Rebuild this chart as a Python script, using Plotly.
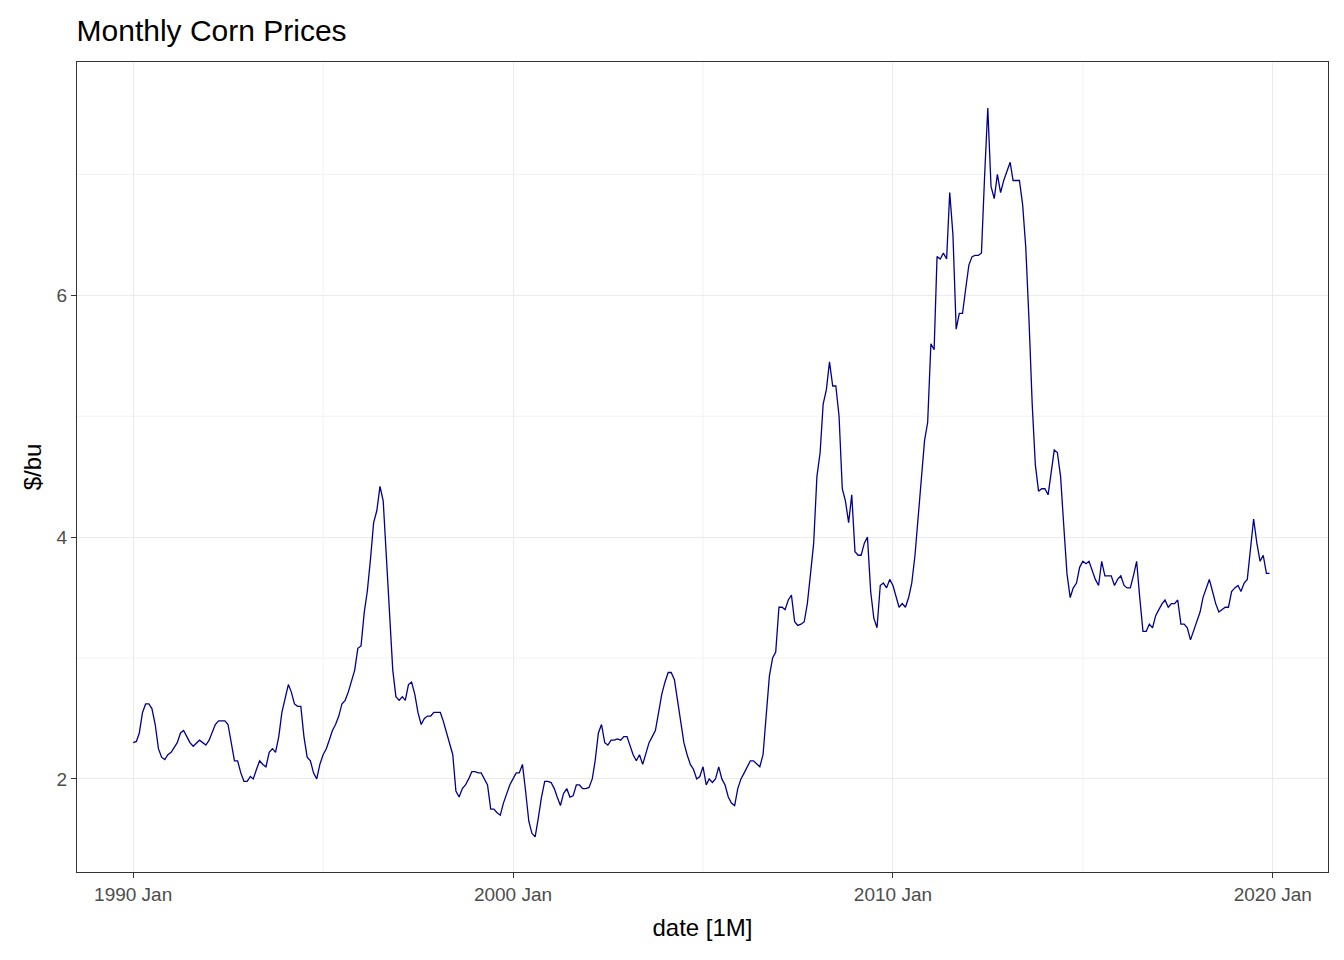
import pandas as pd
import plotly.graph_objects as go

# monthly corn prices, $/bu, Jan 1990 - Dec 2019
prices_by_year = {
    1990: [2.30, 2.31, 2.38, 2.55, 2.62, 2.62, 2.58, 2.45, 2.25, 2.18, 2.16, 2.20],
    1991: [2.22, 2.26, 2.30, 2.38, 2.40, 2.35, 2.30, 2.27, 2.30, 2.32, 2.30, 2.28],
    1992: [2.32, 2.38, 2.45, 2.48, 2.48, 2.48, 2.45, 2.30, 2.15, 2.15, 2.05, 1.98],
    1993: [1.98, 2.02, 2.00, 2.08, 2.15, 2.12, 2.10, 2.22, 2.25, 2.22, 2.35, 2.55],
    1994: [2.68, 2.78, 2.72, 2.62, 2.60, 2.60, 2.35, 2.18, 2.15, 2.05, 2.00, 2.12],
    1995: [2.20, 2.25, 2.32, 2.40, 2.45, 2.52, 2.62, 2.65, 2.72, 2.82, 2.90, 3.08],
    1996: [3.10, 3.38, 3.55, 3.82, 4.12, 4.22, 4.42, 4.30, 3.80, 3.30, 2.90, 2.68],
    1997: [2.65, 2.68, 2.65, 2.78, 2.80, 2.70, 2.55, 2.45, 2.50, 2.52, 2.52, 2.55],
    1998: [2.55, 2.55, 2.48, 2.38, 2.30, 2.20, 1.90, 1.85, 1.92, 1.95, 2.00, 2.06],
    1999: [2.06, 2.05, 2.05, 2.00, 1.95, 1.75, 1.75, 1.72, 1.70, 1.80, 1.88, 1.95],
    2000: [2.00, 2.05, 2.05, 2.12, 1.90, 1.65, 1.55, 1.52, 1.68, 1.85, 1.98, 1.98],
    2001: [1.97, 1.92, 1.85, 1.78, 1.88, 1.92, 1.85, 1.86, 1.95, 1.95, 1.92, 1.92],
    2002: [1.93, 2.00, 2.15, 2.38, 2.45, 2.30, 2.28, 2.32, 2.32, 2.33, 2.32, 2.35],
    2003: [2.35, 2.28, 2.20, 2.15, 2.20, 2.12, 2.22, 2.30, 2.35, 2.40, 2.55, 2.70],
    2004: [2.80, 2.88, 2.88, 2.82, 2.65, 2.45, 2.30, 2.20, 2.12, 2.08, 2.00, 2.02],
    2005: [2.10, 1.95, 2.00, 1.97, 2.00, 2.10, 2.00, 1.95, 1.85, 1.80, 1.78, 1.92],
    2006: [2.00, 2.05, 2.10, 2.15, 2.15, 2.12, 2.10, 2.20, 2.55, 2.85, 3.00, 3.05],
    2007: [3.42, 3.42, 3.40, 3.48, 3.52, 3.30, 3.27, 3.28, 3.30, 3.45, 3.70, 3.95],
    2008: [4.50, 4.70, 5.10, 5.22, 5.45, 5.25, 5.25, 5.00, 4.40, 4.30, 4.12, 4.35],
    2009: [3.88, 3.85, 3.85, 3.95, 4.00, 3.55, 3.33, 3.25, 3.60, 3.62, 3.58, 3.65],
    2010: [3.60, 3.50, 3.42, 3.45, 3.42, 3.50, 3.62, 3.85, 4.15, 4.45, 4.80, 4.95],
    2011: [5.60, 5.55, 6.32, 6.30, 6.35, 6.30, 6.85, 6.50, 5.72, 5.85, 5.85, 6.05],
    2012: [6.25, 6.32, 6.33, 6.33, 6.35, 7.00, 7.55, 6.90, 6.80, 7.00, 6.85, 6.95],
    2013: [7.02, 7.10, 6.95, 6.95, 6.95, 6.75, 6.40, 5.80, 5.10, 4.60, 4.38, 4.40],
    2014: [4.40, 4.35, 4.55, 4.72, 4.70, 4.50, 4.10, 3.70, 3.50, 3.58, 3.62, 3.75],
    2015: [3.80, 3.78, 3.80, 3.72, 3.65, 3.60, 3.80, 3.68, 3.68, 3.68, 3.60, 3.65],
    2016: [3.68, 3.60, 3.58, 3.58, 3.68, 3.80, 3.50, 3.22, 3.22, 3.28, 3.25, 3.35],
    2017: [3.40, 3.45, 3.48, 3.42, 3.45, 3.45, 3.48, 3.28, 3.28, 3.25, 3.15, 3.22],
    2018: [3.30, 3.38, 3.50, 3.58, 3.65, 3.55, 3.45, 3.38, 3.40, 3.42, 3.42, 3.55],
    2019: [3.58, 3.60, 3.55, 3.62, 3.65, 3.88, 4.15, 3.95, 3.80, 3.85, 3.70, 3.70],
}

prices = [p for year in sorted(prices_by_year) for p in prices_by_year[year]]
dates = pd.date_range('1990-01-01', periods=len(prices), freq='MS')

tick_dates = ['1990-01-01', '2000-01-01', '2010-01-01', '2020-01-01']
tick_labels = ['1990 Jan', '2000 Jan', '2010 Jan', '2020 Jan']

fig = go.Figure()
fig.add_trace(go.Scatter(
    x=dates, y=prices, mode='lines',
    line=dict(color='#00008B', width=1.3),
    showlegend=False,
))

# minor gridlines (ggplot theme_bw)
for d in ['1995-01-01', '2005-01-01', '2015-01-01']:
    fig.add_shape(type='line', xref='x', yref='paper', x0=d, x1=d, y0=0, y1=1,
                  line=dict(color='#F2F2F2', width=1), layer='below')
for v in [3, 5, 7]:
    fig.add_shape(type='line', xref='paper', yref='y', x0=0, x1=1, y0=v, y1=v,
                  line=dict(color='#F2F2F2', width=1), layer='below')

fig.update_layout(
    width=1344, height=960,
    plot_bgcolor='white', paper_bgcolor='white',
    font=dict(family='Liberation Sans, Arial', size=18, color='black'),
    title=dict(text='Monthly Corn Prices', x=0.051, xanchor='left',
               y=0.977, yanchor='middle', font=dict(size=30)),
    margin=dict(l=69, r=24, t=54, b=96, autoexpand=False),
    xaxis=dict(
        title=dict(text='date [1M]', font=dict(size=24)),
        range=['1988-07-10', '2021-06-15'],
        tickvals=tick_dates, ticktext=tick_labels,
        tickfont=dict(size=19, color='#4D4D4D'),
        showgrid=True, gridcolor='#EBEBEB', gridwidth=1.2,
        ticks='outside', ticklen=5, tickcolor='#333333',
        showline=True, linecolor='#333333', mirror=True, zeroline=False,
    ),
    yaxis=dict(
        title=dict(text='$/bu', font=dict(size=24), standoff=8),
        range=[1.23, 7.93],
        tickvals=[2, 4, 6],
        tickfont=dict(size=19, color='#4D4D4D'),
        showgrid=True, gridcolor='#EBEBEB', gridwidth=1.2,
        ticks='outside', ticklen=5, tickcolor='#333333',
        showline=True, linecolor='#333333', mirror=True, zeroline=False,
    ),
)

fig.write_html('out.html')
